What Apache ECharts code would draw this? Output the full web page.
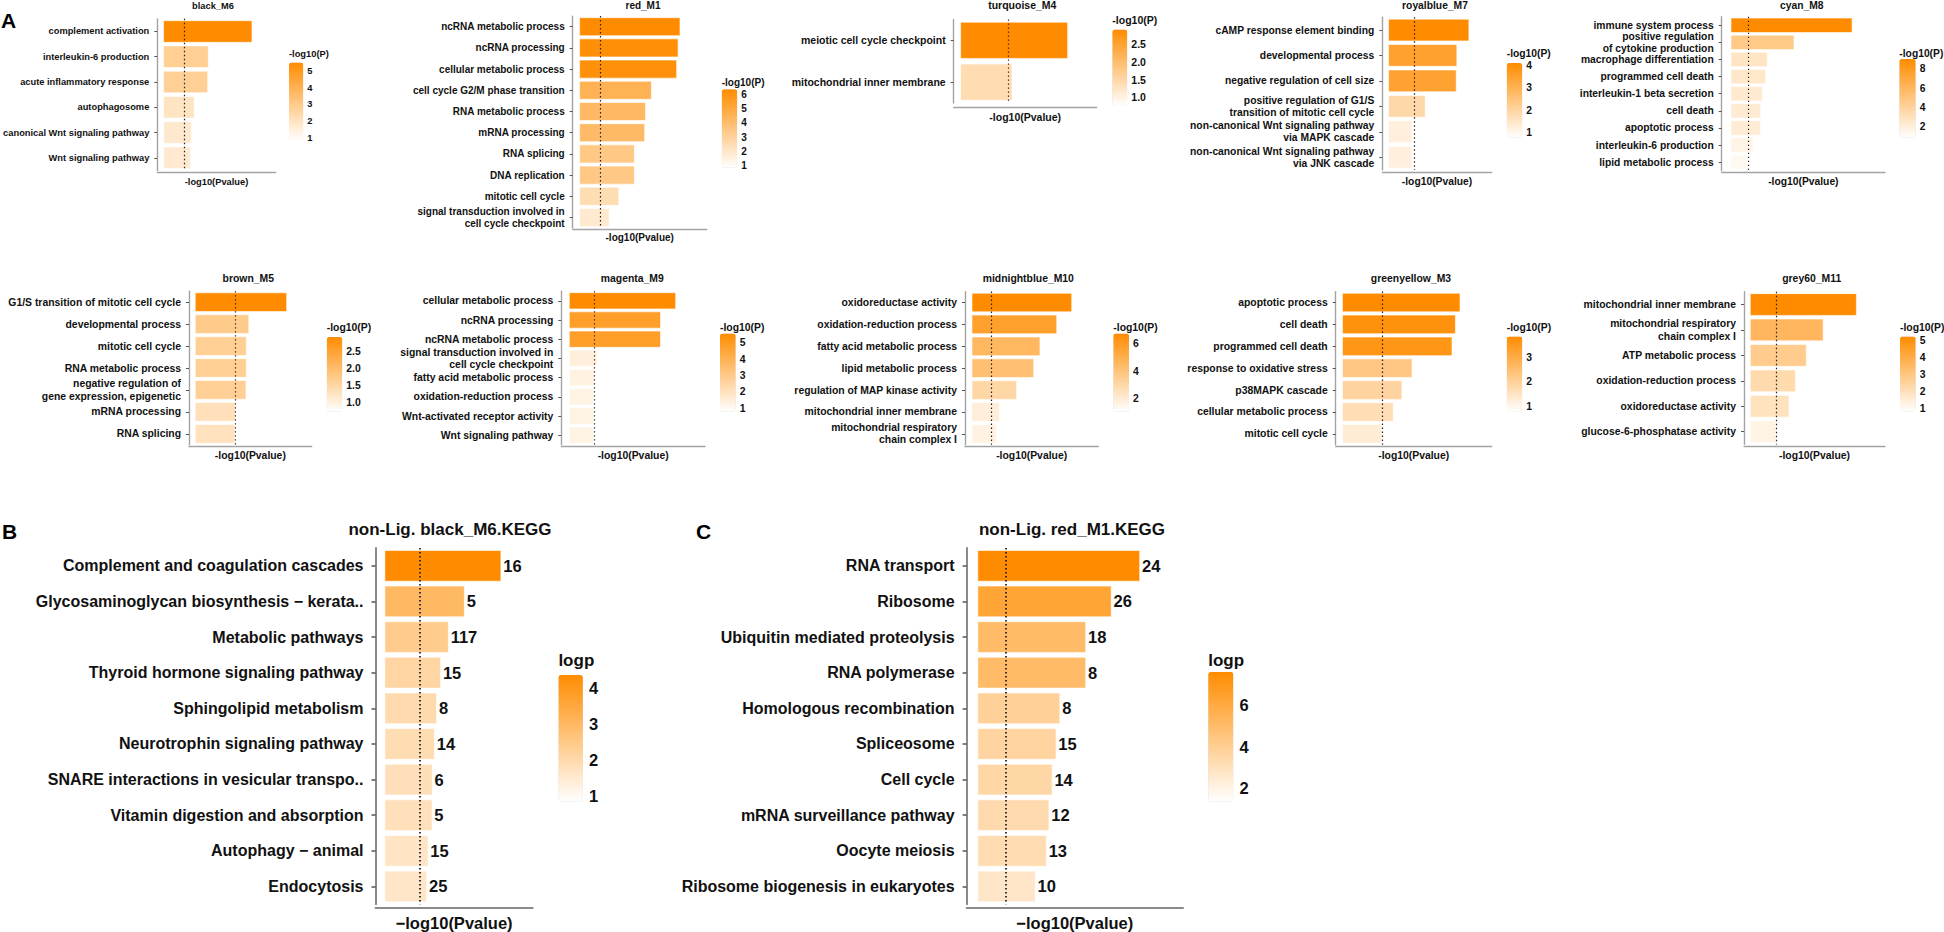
<!DOCTYPE html>
<html>
<head>
<meta charset="utf-8">
<script src="https://cdn.jsdelivr.net/npm/echarts@6/dist/echarts.min.js"></script>
<style>html,body{margin:0;padding:0;background:#fff;}#c{width:1944px;height:932px;}</style>
</head>
<body>
<div id="c"></div>
<script>
// ---------------- DATA ----------------
const black_M6_terms = ['complement activation','interleukin-6 production','acute inflammatory response','autophagosome','canonical Wnt signaling pathway','Wnt signaling pathway'];
const black_M6_logp = [5.51, 2.81, 2.77, 1.94, 1.76, 1.70];
const black_M6_ticks = [1, 2, 3, 4, 5];

const red_M1_terms = ['ncRNA metabolic process','ncRNA processing','cellular metabolic process','cell cycle G2/M phase transition','RNA metabolic process','mRNA processing','RNA splicing','DNA replication','mitotic cell cycle','signal transduction involved in\ncell cycle checkpoint'];
const red_M1_logp = [6.35, 6.23, 6.14, 4.55, 4.18, 4.13, 3.48, 3.48, 2.50, 1.89];
const red_M1_ticks = [1, 2, 3, 4, 5, 6];

const turquoise_M4_terms = ['meiotic cell cycle checkpoint','mitochondrial inner membrane'];
const turquoise_M4_logp = [2.92, 1.41];
const turquoise_M4_ticks = [1.0, 1.5, 2.0, 2.5];

const royalblue_M7_terms = ['cAMP response element binding','developmental process','negative regulation of cell size','positive regulation of G1/S\ntransition of mitotic cell cycle','non-canonical Wnt signaling pathway\nvia MAPK cascade','non-canonical Wnt signaling pathway\nvia JNK cascade'];
const royalblue_M7_logp = [4.10, 3.49, 3.46, 1.89, 1.22, 1.22];
const royalblue_M7_ticks = [1, 2, 3, 4];

const cyan_M8_terms = ['immune system process','positive regulation\nof cytokine production','macrophage differentiation','programmed cell death','interleukin-1 beta secretion','cell death','apoptotic process','interleukin-6 production','lipid metabolic process'];
const cyan_M8_logp = [8.99, 4.70, 2.73, 2.59, 2.36, 2.24, 2.22, 1.67, 1.26];
const cyan_M8_ticks = [2, 4, 6, 8];

const brown_M5_terms = ['G1/S transition of mitotic cell cycle','developmental process','mitotic cell cycle','RNA metabolic process','negative regulation of\ngene expression, epigenetic','mRNA processing','RNA splicing'];
const brown_M5_logp = [2.94, 1.73, 1.65, 1.65, 1.64, 1.31, 1.29];
const brown_M5_ticks = [1.0, 1.5, 2.0, 2.5];

const magenta_M9_terms = ['cellular metabolic process','ncRNA processing','ncRNA metabolic process','signal transduction involved in\ncell cycle checkpoint','fatty acid metabolic process','oxidation-reduction process','Wnt-activated receptor activity','Wnt signaling pathway'];
const magenta_M9_logp = [5.57, 4.78, 4.78, 1.47, 1.35, 1.30, 1.30, 1.29];
const magenta_M9_ticks = [1, 2, 3, 4, 5];

const midnightblue_M10_terms = ['oxidoreductase activity','oxidation-reduction process','fatty acid metabolic process','lipid metabolic process','regulation of MAP kinase activity','mitochondrial inner membrane','mitochondrial respiratory\nchain complex I'];
const midnightblue_M10_logp = [6.76, 5.75, 4.62, 4.20, 3.05, 1.89, 1.68];
const midnightblue_M10_ticks = [2, 4, 6];

const greenyellow_M3_terms = ['apoptotic process','cell death','programmed cell death','response to oxidative stress','p38MAPK cascade','cellular metabolic process','mitotic cell cycle'];
const greenyellow_M3_logp = [3.84, 3.69, 3.58, 2.28, 1.95, 1.67, 1.30];
const greenyellow_M3_ticks = [1, 2, 3];

const grey60_M11_terms = ['mitochondrial inner membrane','mitochondrial respiratory\nchain complex I','ATP metabolic process','oxidation-reduction process','oxidoreductase activity','glucose-6-phosphatase activity'];
const grey60_M11_logp = [5.20, 3.58, 2.76, 2.23, 1.92, 1.27];
const grey60_M11_ticks = [1, 2, 3, 4, 5];

const keggB_terms = ['Complement and coagulation cascades','Glycosaminoglycan biosynthesis \u2212 kerata..','Metabolic pathways','Thyroid hormone signaling pathway','Sphingolipid metabolism','Neurotrophin signaling pathway','SNARE interactions in vesicular transpo..','Vitamin digestion and absorption','Autophagy \u2212 animal','Endocytosis'];
const keggB_logp = [4.37, 3.00, 2.40, 2.11, 1.96, 1.88, 1.80, 1.79, 1.64, 1.59];
const keggB_counts = [16, 5, 117, 15, 8, 14, 6, 5, 15, 25];
const keggB_ticks = [1, 2, 3, 4];

const keggC_terms = ['RNA transport','Ribosome','Ubiquitin mediated proteolysis','RNA polymerase','Homologous recombination','Spliceosome','Cell cycle','mRNA surveillance pathway','Oocyte meiosis','Ribosome biogenesis in eukaryotes'];
const keggC_logp = [7.59, 6.26, 5.07, 5.07, 3.86, 3.68, 3.50, 3.35, 3.23, 2.71];
const keggC_counts = [24, 26, 18, 8, 8, 15, 14, 12, 13, 10];
const keggC_ticks = [2, 4, 6];

const SIG_LINE = 1.301; // -log10(0.05)

// ---------------- LAYOUT ----------------
const FONT = "'Liberation Sans', Arial, Helvetica, sans-serif";
const panels = [
 {title:'black_M6', terms:black_M6_terms, vals:black_M6_logp, ticks:black_M6_ticks, dec:0, lt:'-log10(P)', fs:9.3, g:[157.3,18.85,118.4,151.6], off:2.25, xr:[-0.37,6.96], cb:[289,62.5,14.3,77.5], cr:[0.86,5.51], tp:[213,6], lp:[289,54], nameY:182.3, xname:'-log10(Pvalue)'},
 {title:'red_M1', terms:red_M1_terms, vals:red_M1_logp, ticks:red_M1_ticks, dec:0, lt:'-log10(P)', fs:10, g:[572.7,16.1,134,212], off:1.2, xr:[-0.415,8.01], cb:[721.7,89.3,15.6,78.5], cr:[0.85,6.35], tp:[643,5], lp:[721.7,82], nameY:237.3, xname:'-log10(Pvalue)'},
 {title:'turquoise_M4', terms:turquoise_M4_terms, vals:turquoise_M4_logp, ticks:turquoise_M4_ticks, dec:1, lt:'-log10(P)', fs:10.5, g:[953.7,19.4,143,83.7], off:4.2, xr:[-0.18,3.70], cb:[1112.3,29.5,15,76.6], cr:[0.75,2.92], tp:[1022.3,5], lp:[1112.3,20], nameY:116.7, xname:'-log10(Pvalue)'},
 {title:'royalblue_M7', terms:royalblue_M7_terms, vals:royalblue_M7_logp, ticks:royalblue_M7_ticks, dec:0, lt:'-log10(P)', fs:10.3, g:[1382.3,17.3,109.4,152.6], off:2.1, xr:[-0.30,5.24], cb:[1506.7,63.1,15.6,74.6], cr:[0.76,4.10], tp:[1435,5], lp:[1506.7,53.3], nameY:181.7, xname:'-log10(Pvalue)'},
 {title:'cyan_M8', terms:cyan_M8_terms, vals:cyan_M8_logp, ticks:cyan_M8_ticks, dec:0, lt:'-log10(P)', fs:10.3, g:[1721.7,16.7,163.3,154.1], off:1.5, xr:[-0.665,11.4], cb:[1899.3,59.1,16.4,78.6], cr:[0.86,8.99], tp:[1801.7,5], lp:[1899.3,53.3], nameY:181.7, xname:'-log10(Pvalue)'},
 {title:'brown_M5', terms:brown_M5_terms, vals:brown_M5_logp, ticks:brown_M5_ticks, dec:1, lt:'-log10(P)', fs:10.4, g:[189,291.2,122.7,153.6], off:1.9, xr:[-0.19,3.73], cb:[326.7,336.9,15.6,74.8], cr:[0.72,2.94], tp:[248.3,278.3], lp:[326.7,327.3], nameY:455.7, xname:'-log10(Pvalue)'},
 {title:'magenta_M9', terms:magenta_M9_terms, vals:magenta_M9_logp, ticks:magenta_M9_ticks, dec:0, lt:'-log10(P)', fs:10.4, g:[561.3,291.2,143.7,153.6], off:1.9, xr:[-0.40,7.08], cb:[720,333.4,15.7,78.3], cr:[0.79,5.57], tp:[632.3,278.3], lp:[720,327.3], nameY:455.7, xname:'-log10(Pvalue)'},
 {title:'midnightblue_M10', terms:midnightblue_M10_terms, vals:midnightblue_M10_logp, ticks:midnightblue_M10_ticks, dec:0, lt:'-log10(P)', fs:10.4, g:[965,291.6,133.3,153.2], off:1.9, xr:[-0.45,8.53], cb:[1113.3,333.6,15.7,78.1], cr:[1.05,6.76], tp:[1028.3,278.3], lp:[1113.3,327.3], nameY:455.7, xname:'-log10(Pvalue)'},
 {title:'greenyellow_M3', terms:greenyellow_M3_terms, vals:greenyellow_M3_logp, ticks:greenyellow_M3_ticks, dec:0, lt:'-log10(P)', fs:10.4, g:[1335.7,291.6,156,153.2], off:1.9, xr:[-0.21,4.86], cb:[1506.7,336.6,15.6,75], cr:[0.80,3.84], tp:[1411,278.3], lp:[1506.7,327.3], nameY:455.7, xname:'-log10(Pvalue)'},
 {title:'grey60_M11', terms:grey60_M11_terms, vals:grey60_M11_logp, ticks:grey60_M11_ticks, dec:0, lt:'-log10(P)', fs:10.4, g:[1744,291.8,141,152.6], off:2.3, xr:[-0.29,6.58], cb:[1900,336.6,15.7,75.1], cr:[0.80,5.20], tp:[1811.7,278.3], lp:[1900,327.3], nameY:455.7, xname:'-log10(Pvalue)'},
 {title:'non-Lig. black_M6.KEGG', terms:keggB_terms, vals:keggB_logp, counts:keggB_counts, ticks:keggB_ticks, dec:0, lt:'logp', fs:16, big:true, g:[375.5,548,157.2,357], off:3.3, xr:[-0.34,5.55], cb:[558.4,675,24.5,126.7], cr:[0.83,4.37], tp:[450,529], lp:[558.4,660], nameY:922.7, xname:'\u2212log10(Pvalue)'},
 {title:'non-Lig. red_M1.KEGG', terms:keggC_terms, vals:keggC_logp, counts:keggC_counts, ticks:keggC_ticks, dec:0, lt:'logp', fs:16, big:true, g:[966.6,548,216.4,357], off:3.3, xr:[-0.51,9.6], cb:[1208.2,671.9,25.2,129.8], cr:[1.36,7.59], tp:[1072,529], lp:[1208.2,660], nameY:922.7, xname:'\u2212log10(Pvalue)'}
];

const grids = [], xAxes = [], yAxes = [], series = [], visualMaps = [], graphics = [];
const TXT = '#111111';

panels.forEach((p, i) => {
  const gi = grids.length;
  const [gl, gt, gw, gh] = p.g;
  const axisW = p.big ? 2 : 1.4;
  const axisC = p.big ? '#8a8a8a' : '#a3a3a3';
  grids.push({left: gl, top: gt, width: gw, height: gh});
  const nameGap = p.nameY - (gt + gh + p.off) - p.fs * 0.5;
  xAxes.push({
    type:'value', gridIndex: gi, min: p.xr[0], max: p.xr[1], offset: p.off,
    axisLine:{show:true, onZero:false, lineStyle:{color:axisC, width:axisW}},
    axisTick:{show:false}, axisLabel:{show:false}, splitLine:{show:false},
    name: p.xname, nameLocation:'middle', nameGap: nameGap,
    nameTextStyle:{fontSize: p.big ? 16.5 : p.fs, fontWeight:'bold', color:TXT, fontFamily:FONT}
  });
  yAxes.push({
    type:'category', gridIndex: gi, data: p.terms, inverse: true,
    axisLine:{show:true, onZero:false, lineStyle:{color:axisC, width:axisW}},
    axisTick:{show:true, alignWithLabel:true, length: p.big ? 4 : 3, lineStyle:{color:'#555', width: p.big ? 1.5 : 1}},
    axisLabel:{interval:0, fontSize:p.fs, fontWeight:'bold', color:TXT, fontFamily:FONT, margin: p.big ? 12 : 8, lineHeight: p.fs * 1.18, align:'right'},
    splitLine:{show:false}
  });
  const s = {
    type:'bar', xAxisIndex: gi, yAxisIndex: gi,
    data: p.vals.map((v, k) => [v, k]),
    barCategoryGap: '12%',
    itemStyle:{borderColor:'#ffffff', borderWidth:0.6},
    markLine:{symbol:'none', silent:true, animation:false, label:{show:false},
      lineStyle:{type:[1.4, 2.6], color:'#222', width: p.big ? 1.8 : 1.2},
      data:[{xAxis: SIG_LINE}]},
    animation:false
  };
  if (p.counts) {
    const cnt = p.counts;
    s.label = {show:true, position:'right', distance:2, formatter: (q) => String(cnt[q.dataIndex]),
      fontSize:16.5, fontWeight:'bold', color:TXT, fontFamily:FONT};
  }
  const si = series.length;
  series.push(s);
  const [cx, ct, cw, ch] = p.cb;
  visualMaps.push({
    type:'continuous', seriesIndex: si, dimension: 0, min: p.cr[0], max: p.cr[1],
    inRange:{color:['#ffffff', '#ff8c00']}, calculable:false, realtime:false, hoverLink:false,
    orient:'vertical', left: cx, top: ct, itemWidth: cw, itemHeight: ch, padding:0,
    text: null, showLabel:false
  });
  // colorbar tick labels through an axis
  const ai = grids.length;
  grids.push({left: cx, top: ct, width: cw, height: ch});
  xAxes.push({type:'value', gridIndex: ai, show:false, min:0, max:1});
  const dec = p.dec;
  yAxes.push({
    type:'value', gridIndex: ai, min: p.cr[0], max: p.cr[1], position:'right', z: 10,
    axisLine:{show:false},
    axisTick:{show:true, inside:true, length: cw * 0.22, lineStyle:{color:'#ffffff', width:1}, customValues: p.ticks},
    axisLabel:{customValues: p.ticks, formatter: (v) => dec ? Number(v).toFixed(dec) : String(Math.round(v)),
      margin: p.big ? 6 : 4, fontSize: p.big ? 16.5 : p.fs, fontWeight:'bold', color:TXT, fontFamily:FONT},
    splitLine:{show:false}
  });
  // panel title and legend title
  graphics.push({type:'text', x: p.tp[0], y: p.tp[1], silent:true,
    style:{text: p.title, textAlign:'center', textVerticalAlign:'middle', fill:TXT,
      font: 'bold ' + (p.big ? 17 : p.fs) + 'px ' + FONT}});
  graphics.push({type:'text', x: p.lp[0], y: p.lp[1], silent:true,
    style:{text: p.lt, textAlign:'left', textVerticalAlign:'middle', fill:TXT,
      font: 'bold ' + (p.big ? 17 : p.fs) + 'px ' + FONT}});
});

// panel letters
[['A', 1, 20], ['B', 2, 531], ['C', 696, 531]].forEach(([t, x, y]) => {
  graphics.push({type:'text', x: x, y: y, silent:true,
    style:{text: t, textAlign:'left', textVerticalAlign:'middle', fill:'#000', font:'900 21px ' + FONT}});
});

const chart = echarts.init(document.getElementById('c'), null, {renderer:'svg', width:1944, height:932});
chart.setOption({
  backgroundColor:'#ffffff',
  animation:false,
  grid: grids, xAxis: xAxes, yAxis: yAxes, series: series, visualMap: visualMaps,
  graphic: graphics
});
</script>
</body>
</html>
